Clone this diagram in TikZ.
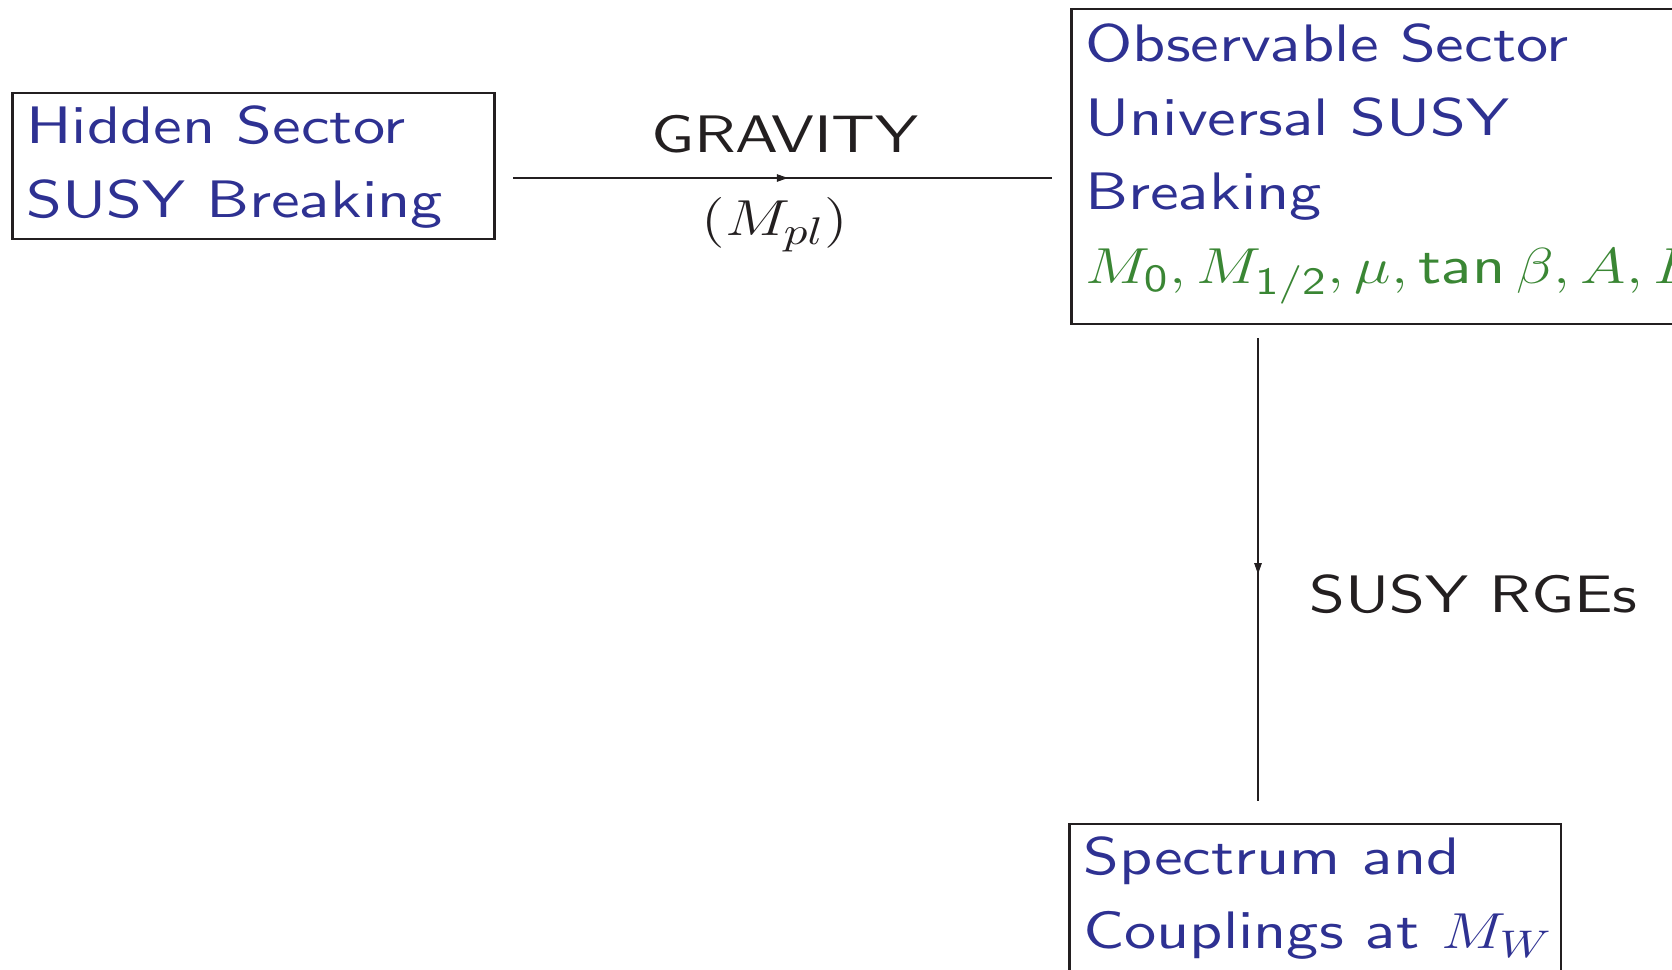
\documentclass[tikz,border=0pt]{standalone}
\usetikzlibrary{arrows.meta,decorations.markings}
\definecolor{hblue}{RGB}{46,49,146}
\definecolor{hgreen}{RGB}{58,134,52}
\definecolor{ink}{RGB}{35,31,32}
\font\sectorfont=cmss10 at 15pt
\newcommand{\slidefont}{\fontsize{15pt}{21.05pt}\selectfont\sectorfont}
\tikzset{
  sector/.style={draw=ink, line width=0.65pt, align=left, anchor=north west, xscale=1.22,
    inner xsep=0.115cm, inner ysep=0pt, text=hblue, font=\slidefont},
  tag/.style={text=ink, inner sep=0pt, xscale=1.22, font=\slidefont},
  flow/.style={ink, line width=0.3pt, postaction={decorate},
    decoration={markings, mark=at position 0.51 with {\arrow{Triangle[length=0.11cm,width=0.075cm]}}}}
}
\begin{document}
\begin{tikzpicture}[x=0.01cm, y=-0.01cm]
\useasboundingbox (0,0) rectangle (1672,969);
\clip (0,0) rectangle (1672,969);
% the three sectors
\node[sector, text width=3.72cm, text height=0.5cm, text depth=0.96cm] (hidden) at (11,92) {Hidden Sector\\SUSY Breaking};
\node[sector, text width=6cm, text height=0.52cm, text depth=2.63cm] (observ) at (1070,8) {Observable Sector\\Universal SUSY\\Breaking\\\color{hgreen}$M_{\mathsf{0}}, M_{\mathsf{1/2}}, \mu, \mathop{\mbox{\sectorfont tan}}\beta, A, \tilde{B}$};
\node[sector, text width=3.795cm, text height=0.5cm, text depth=1.6cm] (spect) at (1068,823) {Spectrum and\\\mbox{Couplings at $M_W$}};
% mediation
\coordinate (gfrom) at (513,178);
\coordinate (gto) at (1052,178);
\draw[flow] (gfrom) -- (gto);
\node[tag, anchor=base] (grav) at (785,152) {GRAVITY};
\node[tag, anchor=base] (mpl) at (775,235) {$(M_{pl})$};
% running down to the weak scale
\coordinate (rfrom) at (1258,338);
\coordinate (rto) at (1258,801);
\draw[flow] (rfrom) -- (rto);
\node[tag, anchor=base west] (rge) at (1309,612) {SUSY RGEs};
\end{tikzpicture}
\end{document}
